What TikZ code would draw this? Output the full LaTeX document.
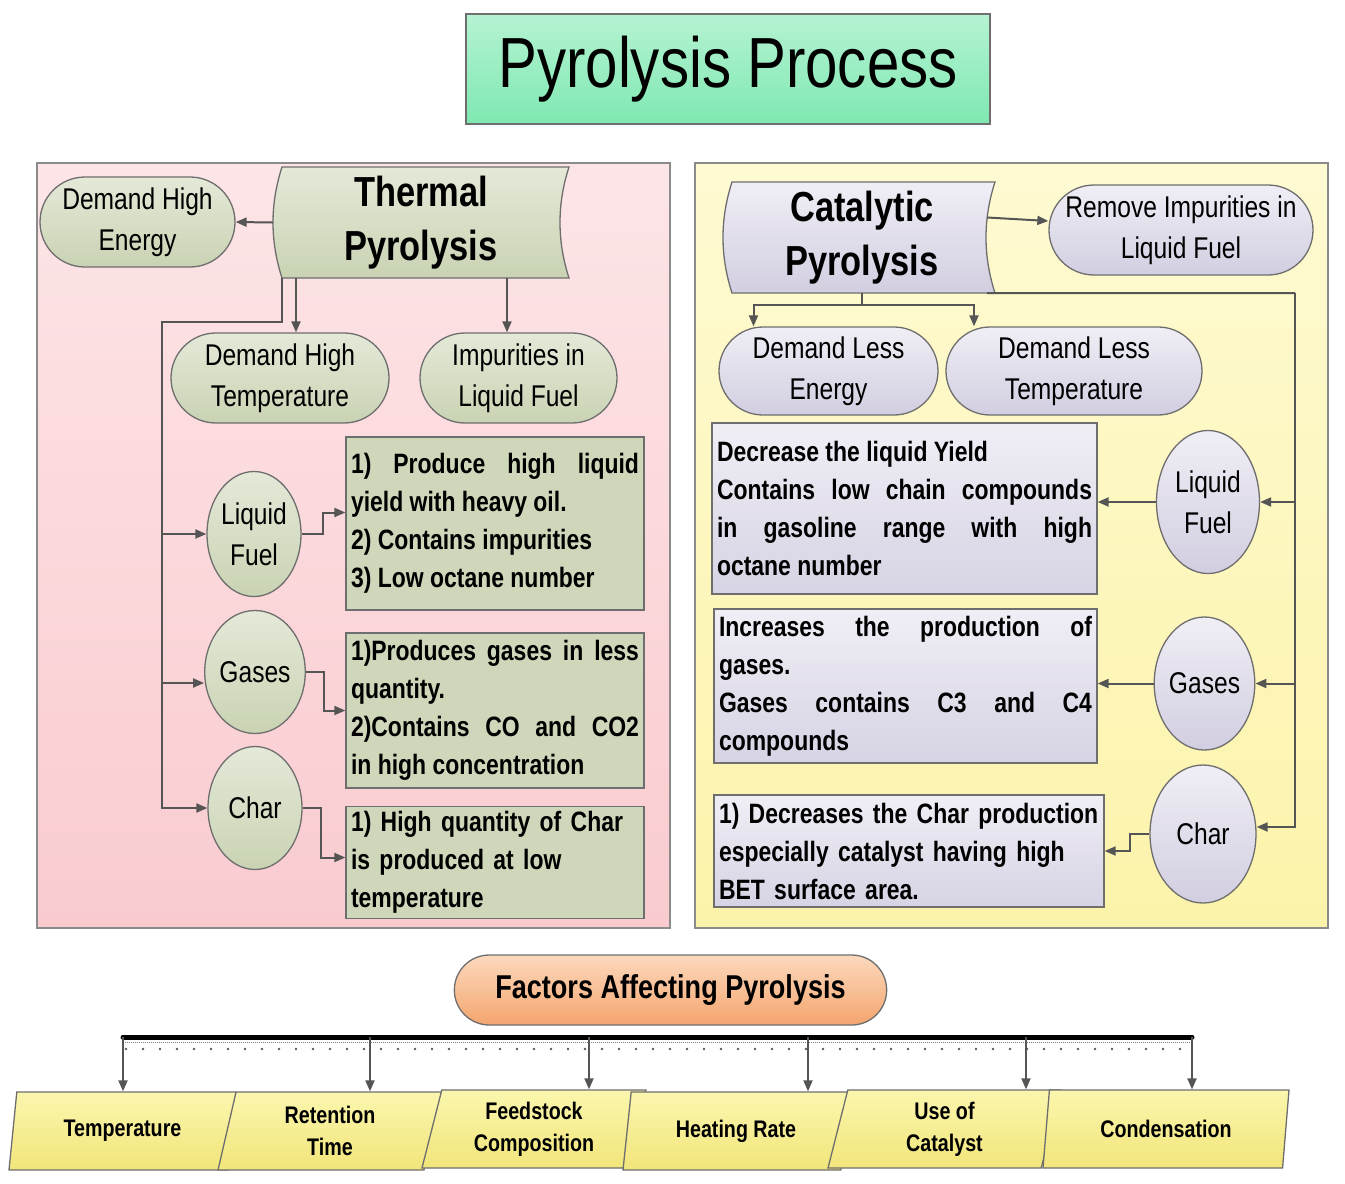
\documentclass[tikz,border=0pt]{standalone}
\usepackage{fontspec}
\setmainfont{Liberation Sans}[FakeStretch=0.82]
\usetikzlibrary{shapes.misc,shapes.geometric,arrows.meta}
\tolerance=10000
\hyphenpenalty=10000
\definecolor{bordcol}{HTML}{6E6E6E}
\definecolor{linecol}{HTML}{555555}
\definecolor{pinkA}{HTML}{FDE5E7}
\definecolor{pinkB}{HTML}{F9CBCF}
\definecolor{yelA}{HTML}{FEFAD2}
\definecolor{yelB}{HTML}{FCF3AA}
\definecolor{grA}{HTML}{E4E9D8}
\definecolor{grB}{HTML}{C9D3B3}
\definecolor{lavA}{HTML}{F0EEF5}
\definecolor{lavB}{HTML}{D2CEE1}
\definecolor{mintA}{HTML}{B5F3D2}
\definecolor{mintB}{HTML}{7FE8B2}
\definecolor{orA}{HTML}{FCD9BD}
\definecolor{orB}{HTML}{F4A56E}
\definecolor{paraA}{HTML}{FBF6AE}
\definecolor{paraB}{HTML}{F1E57A}
\begin{document}
\begin{tikzpicture}[x=1pt,y=-1pt,
    line/.style={draw=linecol, line width=2pt},
    arr/.style={line, -{Triangle[length=11pt,width=9pt]}},
    pill/.style={rounded rectangle, draw=bordcol, line width=1.3pt, inner sep=0pt, align=center, font=\fontsize{30}{41}\selectfont},
    gpill/.style={pill, top color=grA, bottom color=grB},
    lpill/.style={pill, top color=lavA, bottom color=lavB},
    oval/.style={ellipse, draw=bordcol, line width=1.3pt, inner sep=0pt, align=center, font=\fontsize{30}{41}\selectfont},
    txtbox/.style={rectangle, draw=bordcol, line width=1.3pt, inner sep=5pt, align=justify, font=\bfseries\fontsize{28}{38}\selectfont},
    para/.style={trapezium, trapezium left angle=70, trapezium right angle=110, trapezium stretches body=true, draw=bordcol, line width=1.3pt, top color=paraA, bottom color=paraB, minimum height=78, inner sep=0pt, align=center, font=\bfseries\fontsize{24}{32}\selectfont}]
\useasboundingbox (0,0) rectangle (1345,1184);

% panels
\draw[draw=bordcol!80, line width=1.5pt, top color=pinkA, bottom color=pinkB] (37,163) rectangle (670,928);
\draw[draw=bordcol!80, line width=1.5pt, top color=yelA, bottom color=yelB] (695,163) rectangle (1328,928);

\node[draw=bordcol, line width=1.5pt, top color=mintA, bottom color=mintB, minimum width=524, minimum height=110, font=\fontsize{71}{80}\selectfont] (TITLE) at (728,69) {Pyrolysis Process};

% thermal side
\path[draw=bordcol, line width=1.3pt, top color=grA, bottom color=grB] (282,167) -- (569,167) .. controls (557,204) and (557,241) .. (569,278) -- (282,278) .. controls (270,241) and (270,204) .. (282,167) -- cycle;
\node[font=\bfseries\fontsize{42}{54}\selectfont, align=center, minimum width=296, minimum height=111, inner sep=0pt] (TP) at (421,222.5) {Thermal\\Pyrolysis};
\node[gpill, minimum width=195, minimum height=90] (DHE) at (137.5,222) {Demand High\\Energy};
\node[gpill, minimum width=218, minimum height=90] (DHT) at (280,378) {Demand High\\Temperature};
\node[gpill, minimum width=197, minimum height=90] (IMP) at (518.5,378) {Impurities in\\Liquid Fuel};
\node[oval, top color=grA, bottom color=grB, minimum width=94, minimum height=125] (LF1) at (254,534) {Liquid\\Fuel};
\node[oval, top color=grA, bottom color=grB, minimum width=94, minimum height=123] (GA1) at (255,672) {Gases};
\node[oval, top color=grA, bottom color=grB, minimum width=94, minimum height=123] (CH1) at (255,808) {Char};
\node[txtbox, fill=grB!80!grA, text width=288, minimum height=173] (B1) at (495,523.5) {1) Produce high liquid\linebreak yield with heavy oil.\\2) Contains impurities\\3) Low octane number};
\node[txtbox, fill=grB!80!grA, text width=288, minimum height=155] (B2) at (495,710.5) {1)Produces gases in less\linebreak quantity.\\2)Contains CO and CO2\linebreak in high concentration};
\node[txtbox, fill=grB!80!grA, text width=288, minimum height=111, align=left] (B3) at (495,862.5) {1) High quantity of Char\\is produced at low\\temperature};

\coordinate (a1) at (296,278);
\coordinate (a2) at (507,278);
\coordinate (a3) at (282,278);
\coordinate (LJ) at (162,322);
\draw[arr] (TP.west) -- (DHE.east);
\draw[arr] (a1) -- (a1 |- DHT.north);
\draw[arr] (a2) -- (a2 |- IMP.north);
\draw[arr] (a3) |- (LJ) |- (LF1.west);
\draw[arr] (LJ) |- ([yshift=-11pt]GA1.west);
\draw[arr] (LJ) |- (CH1.west);
\draw[arr] (LF1.east) -- ++(21,0) |- ([yshift=11pt]B1.west);
\draw[arr] (GA1.east) -- ++(18,0) |- (B2.west);
\draw[arr] (CH1.east) -- ++(18,0) |- ([yshift=5pt]B3.west);

% catalytic side
\path[draw=bordcol, line width=1.3pt, top color=lavA, bottom color=lavB] (732,182) -- (995,182) .. controls (983,219) and (983,256) .. (995,293) -- (732,293) .. controls (720,256) and (720,219) .. (732,182) -- cycle;
\node[font=\bfseries\fontsize{42}{54}\selectfont, align=center, minimum width=250, minimum height=111, inner sep=0pt] (CP) at (862,237.5) {Catalytic\\Pyrolysis};
\node[lpill, minimum width=264, minimum height=90] (RIL) at (1181,230) {Remove Impurities in\\Liquid Fuel};
\node[lpill, minimum width=219, minimum height=88] (DLE) at (828.5,371) {Demand Less\\Energy};
\node[lpill, minimum width=256, minimum height=88] (DLT) at (1074,371) {Demand Less\\Temperature};
\node[oval, top color=lavA, bottom color=lavB, minimum width=103, minimum height=143] (LF2) at (1208,502) {Liquid\\Fuel};
\node[oval, top color=lavA, bottom color=lavB, minimum width=99, minimum height=133] (GA2) at (1204.5,683.5) {Gases};
\node[oval, top color=lavA, bottom color=lavB, minimum width=106, minimum height=138] (CH2) at (1203,834) {Char};
\node[txtbox, top color=lavA, bottom color=lavB!90, text width=375, minimum height=171] (C1) at (904.5,508.5) {Decrease the liquid Yield\\Contains low chain compounds\linebreak in gasoline range with high\linebreak octane number};
\node[txtbox, top color=lavA, bottom color=lavB!90, text width=373, minimum height=154] (C2) at (905.5,686) {Increases the production of\linebreak gases.\\Gases contains C3 and C4\linebreak compounds};
\node[txtbox, top color=lavA, bottom color=lavB!90, text width=380, minimum height=112, align=left] (C3) at (909,851) {1) Decreases the Char production\\especially catalyst having high\\BET surface area.};

\coordinate (CJ) at (862,305);
\coordinate (RJ) at (1295,293);
\draw[arr] ([yshift=20pt]CP.east) -- ([yshift=9pt]RIL.west);
\draw[line] (CP.south) -- (CJ);
\draw[arr] (CJ) -| ([xshift=-75pt]DLE.north);
\draw[arr] (CJ) -| ([xshift=-100pt]DLT.north);
\draw[line] (CP.south east) -- (RJ);
\draw[arr] (RJ) |- (LF2.east);
\draw[arr] (RJ) |- (GA2.east);
\draw[arr] (RJ) |- ([yshift=7pt]CH2.east);
\draw[arr] (LF2.west) -- (LF2.west -| C1.east);
\draw[arr] (GA2.west) -- (GA2.west -| C2.east);
\draw[arr] (CH2.west) -- ++(-19,0) |- (C3.east);

% factors
\node[rounded rectangle, draw=bordcol, line width=1.3pt, top color=orA, bottom color=orB, minimum width=439, minimum height=70, font=\bfseries\fontsize{33}{40}\selectfont] (FAP) at (670.5,990) {Factors Affecting Pyrolysis};
\coordinate (BL) at (123,1037);
\coordinate (BR) at (1192,1037);
\draw[line width=5pt, line cap=round] (BL) -- (BR);
\draw[gray, densely dotted, line width=1pt] (123,1042) -- (1192,1042);
\foreach \i in {0,...,62}
    \fill[gray!70!black] (126+17*\i,1049) circle (1.3);

\node[para, minimum width=227] (F1) at (122.5,1131) {Temperature};
\node[para, minimum width=224] (F2) at (330,1131) {Retention\\Time};
\node[para, minimum width=224] (F3) at (534,1129) {Feedstock\\Composition};
\node[para, minimum width=226] (F4) at (736,1131) {Heating Rate};
\node[para, minimum width=233] (F5) at (944.5,1129) {Use of\\Catalyst};
\node[para, minimum width=246] (F6) at (1166,1129) {Condensation};

\foreach \n/\x in {F1/123,F2/370,F3/589,F4/808,F5/1026,F6/1192}{
    \coordinate (b\n) at (\x,1037);
    \draw[arr] (b\n) -- (b\n |- \n.north);
}
\end{tikzpicture}
\end{document}
